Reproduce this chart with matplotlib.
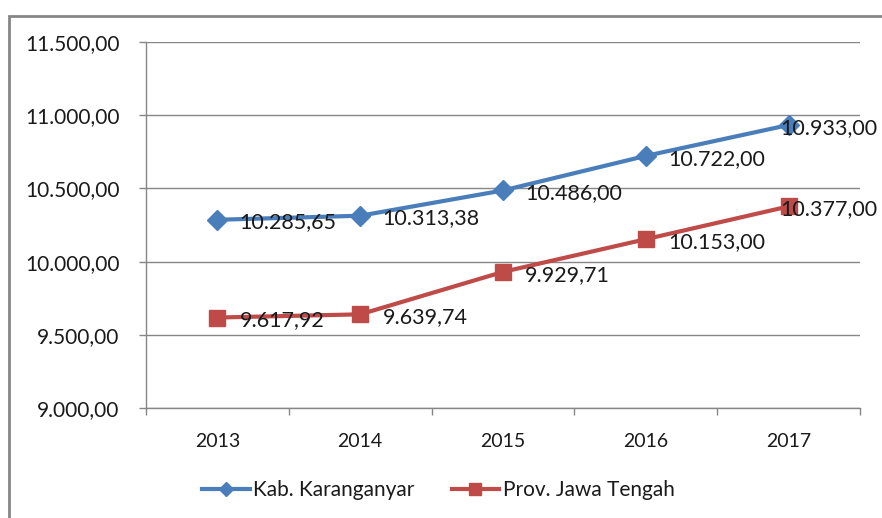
import matplotlib
matplotlib.use("Agg")
import matplotlib.pyplot as plt
from matplotlib.patches import Rectangle

years = ["2013", "2014", "2015", "2016", "2017"]
karanganyar = [10285.65, 10313.38, 10486.00, 10722.00, 10933.00]
jateng = [9617.92, 9639.74, 9929.71, 10153.00, 10377.00]
yticks = [9000, 9500, 10000, 10500, 11000, 11500]

plt.rcParams['font.family'] = ['Lato', 'DejaVu Sans']

def fmt(v):
    s = f"{v:,.2f}"
    return s.replace(",", "X").replace(".", ",").replace("X", ".")

fig = plt.figure(figsize=(8.82, 5.18), dpi=100)
ax = fig.add_axes([146/882, 1-408/518, (860-146)/882, (408-42)/518])

x = list(range(len(years)))
blue = "#4A7EBB"
red = "#BE4B48"
ax.plot(x, karanganyar, color=blue, lw=3, marker="D", ms=10, label="Kab. Karanganyar", zorder=3)
ax.plot(x, jateng, color=red, lw=3, marker="s", ms=11, label="Prov. Jawa Tengah", zorder=3)

txtc = "#1a1a1a"
for series in (karanganyar, jateng):
    for i, v in enumerate(series):
        off = (16, -2) if i < 4 else (-6, -2)
        ax.annotate(fmt(v), (i, v), xytext=off, textcoords="offset points",
                    ha="left", va="center", fontsize=15.5, color=txtc, zorder=4)

ax.set_xlim(-0.5, 4.5)
ax.set_ylim(9000, 11500)
ax.set_yticks(yticks)
ax.set_yticklabels([fmt(v) for v in yticks], fontsize=15, color=txtc)
ax.set_xticks(x)
ax.set_xticklabels(years, fontsize=14, color=txtc)
ax.set_xticks([i + 0.5 for i in range(-1, 5)], minor=True)
ax.tick_params(axis="x", which="major", length=0, pad=18)
ax.tick_params(axis="x", which="minor", length=5, color="#868686", width=1)
ax.tick_params(axis="y", length=5, color="#868686", width=1, pad=14)

ax.grid(axis="y", color="#868686", lw=1)
ax.set_axisbelow(True)
for s in ["top", "right"]:
    ax.spines[s].set_visible(False)
for s in ["left", "bottom"]:
    ax.spines[s].set_color("#868686")
    ax.spines[s].set_linewidth(1)

leg = fig.legend(loc="center", bbox_to_anchor=(438/882, 1-490/518), ncol=2, frameon=False,
                 fontsize=15, handlelength=2.3, columnspacing=1.8, handletextpad=0.15,
                 markerscale=0.75)
for t in leg.get_texts():
    t.set_color(txtc)

fig.patches.append(Rectangle((9/882, -0.05), 1.0, 1-16/518+0.05, transform=fig.transFigure,
                             fill=False, edgecolor="#868686", lw=2))

fig.savefig("out.png", dpi=100)
